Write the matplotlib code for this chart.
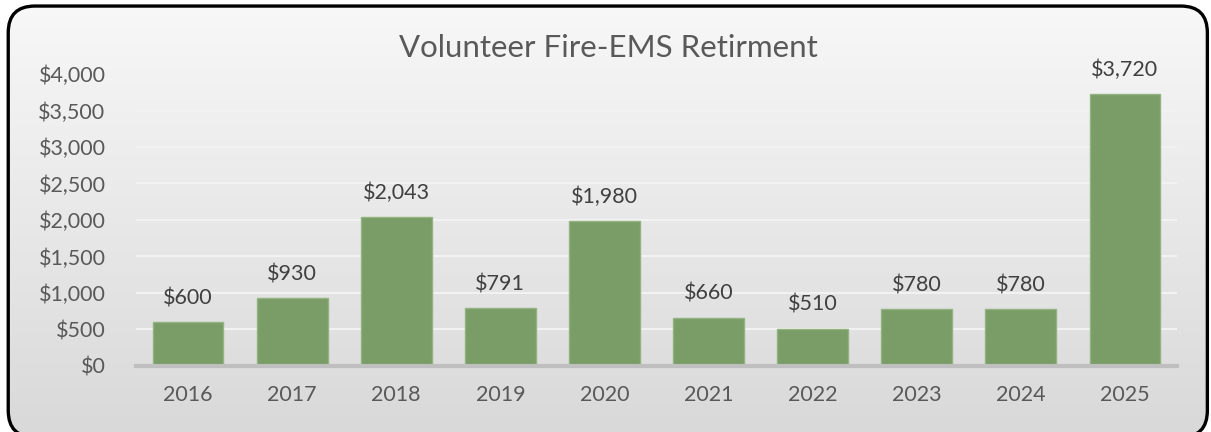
import numpy as np
import matplotlib.pyplot as plt
from matplotlib.colors import LinearSegmentedColormap
from matplotlib.patches import FancyBboxPatch

years = ['2016', '2017', '2018', '2019', '2020', '2021', '2022', '2023', '2024', '2025']
amounts = [600, 930, 2043, 791, 1980, 660, 510, 780, 780, 3720]
yticks = [0, 500, 1000, 1500, 2000, 2500, 3000, 3500, 4000]

plt.rcParams['font.family'] = ['Lato', 'DejaVu Sans']
text_color = '#595959'

fig = plt.figure(figsize=(12.11, 4.32), dpi=100, facecolor='white')

# background: grey gradient inside a rounded black frame (bottom runs off the edge)
bg = fig.add_axes([0, 0, 1, 1], zorder=-2)
bg.set_xlim(0, 1)
bg.set_ylim(0, 1)
bg.axis('off')
frame = FancyBboxPatch((0.0068, -0.012), 0.9902, 0.998,
                       boxstyle='round,pad=0,rounding_size=0.022',
                       transform=bg.transAxes, facecolor='none',
                       edgecolor='black', linewidth=2.4, zorder=5,
                       mutation_aspect=1211 / 432, clip_on=False)
bg.add_patch(frame)
grad = np.linspace(0, 1, 256).reshape(-1, 1)
img = bg.imshow(grad, aspect='auto', extent=[0, 1, 0, 1], origin='upper',
                cmap=LinearSegmentedColormap.from_list('g', ['#f8f8f8', '#d9d9d9']))
img.set_clip_path(frame)

ax = fig.add_axes([0.1123, 0.1528, 0.8596, 0.6759])
ax.patch.set_alpha(0)
x = np.arange(len(years))
ax.bar(x, amounts, width=0.68, color='#7a9c67', edgecolor='#93b381',
       linewidth=1, zorder=3)

ax.set_xlim(-0.5, len(years) - 0.5)
ax.set_ylim(0, 4000)
ax.set_yticks(yticks)
ax.set_yticklabels(['$0' if v == 0 else '${:,}'.format(v) for v in yticks])
ax.set_xticks(x)
ax.set_xticklabels(years)
ax.tick_params(axis='both', length=0, labelsize=15.5, colors=text_color)
ax.tick_params(axis='y', pad=22)
ax.tick_params(axis='x', pad=14)
ax.grid(axis='y', color='#f2f2f2', linewidth=1.5, zorder=0)
for s in ['top', 'right', 'left']:
    ax.spines[s].set_visible(False)
ax.spines['bottom'].set_color('#bfbfbf')
ax.spines['bottom'].set_linewidth(3)
ax.spines['bottom'].set_zorder(4)

for xi, v in zip(x, amounts):
    ax.annotate('${:,}'.format(v), (xi, v), xytext=(0, 10), textcoords='offset points',
                ha='center', va='bottom', fontsize=15.5, color='#404040')

fig.text(0.502, 0.89, 'Volunteer Fire-EMS Retirment', ha='center', va='center',
         fontsize=22.5, color=text_color)

fig.savefig('out.png', dpi=100, facecolor='white')
